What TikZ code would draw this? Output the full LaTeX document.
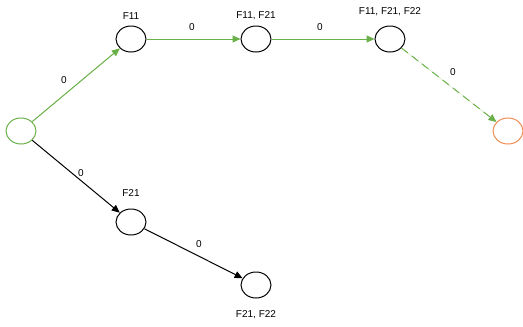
\documentclass[tikz,border=0pt]{standalone}
\usepackage{fontspec}
\setmainfont{Liberation Sans}
\usetikzlibrary{arrows.meta,shapes.geometric}
\definecolor{grn}{RGB}{106,176,72}
\definecolor{org}{RGB}{242,140,80}
\begin{document}
\begin{tikzpicture}[x=1pt,y=-1pt,
  st/.style={draw=black,ellipse,minimum width=30pt,minimum height=26pt,inner sep=0pt,line width=1pt},
  lbl/.style={font=\fontsize{10}{12}\selectfont,inner sep=0pt},
  edge/.style={line width=1pt,-{Triangle[length=8pt,width=7pt]}},
  gedge/.style={edge,draw=grn,fill=grn}]
\useasboundingbox (0,0) rectangle (523,327);
\node[st,draw=grn] (s) at (21,131) {};
\node[st] (a) at (131,39) {};
\node[st] (b) at (256,39) {};
\node[st] (c) at (390,39) {};
\node[st,draw=org] (t) at (508,131) {};
\node[st] (d) at (131,222) {};
\node[st] (e) at (256,285) {};
\node[lbl] (la) at (131,16) {F11};
\node[lbl] (lb) at (256,16) {F11, F21};
\node[lbl] (lc) at (390,12) {F11, F21, F22};
\node[lbl] (ld) at (131,193) {F21};
\node[lbl] (le) at (256,315) {F21, F22};
\draw[gedge] (s) -- (a);
\draw[gedge] (a) -- (b);
\draw[gedge] (b) -- (c);
\draw[gedge,dash pattern=on 8pt off 5pt] (c) -- (t);
\draw[edge] (s) -- (d);
\draw[edge] (d) -- (e);
\node[lbl] (w1) at (64,80) {0};
\node[lbl] (w2) at (192,27) {0};
\node[lbl] (w3) at (320,27) {0};
\node[lbl] (w4) at (453,72) {0};
\node[lbl] (w5) at (81,173) {0};
\node[lbl] (w6) at (199,244) {0};
\end{tikzpicture}
\end{document}
